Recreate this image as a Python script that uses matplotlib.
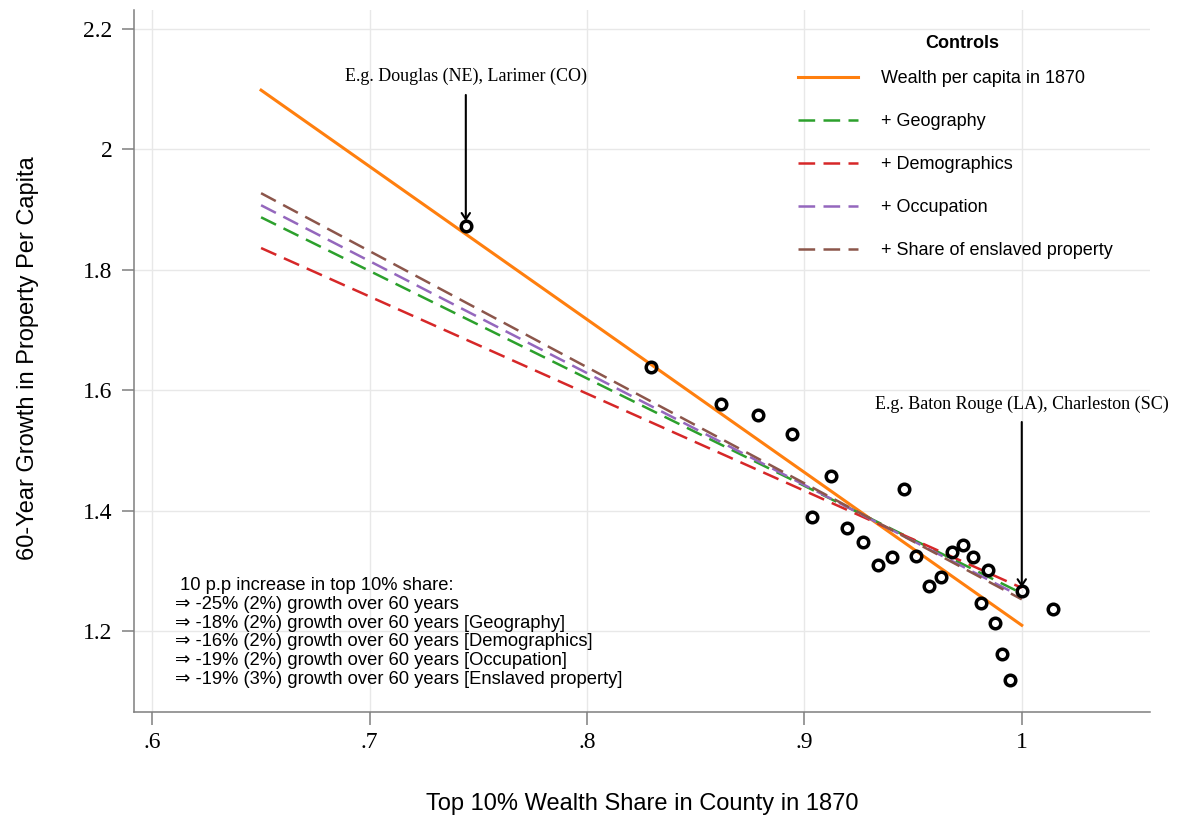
import matplotlib
matplotlib.use("Agg")
import matplotlib.pyplot as plt

# ---------------- data ----------------
top10_share = [0.7442, 0.8294, 0.8616, 0.8787, 0.8943, 0.9123, 0.9035, 0.9195,
               0.9269, 0.9338, 0.9402, 0.9457, 0.9513, 0.9572, 0.9628, 0.9678,
               0.9729, 0.9775, 0.9844, 0.9812, 0.9876, 0.9908, 0.9945, 1.0000,
               1.0143]
growth = [1.8726, 1.6386, 1.5772, 1.5590, 1.5274, 1.4577, 1.3897, 1.3714,
          1.3482, 1.3100, 1.3233, 1.4361, 1.3250, 1.2752, 1.2901, 1.3316,
          1.3432, 1.3233, 1.3017, 1.2470, 1.2138, 1.1624, 1.1192, 1.2669,
          1.2370]

fit_x = [0.65, 1.0]
fit_labels = ["Wealth per capita in 1870", "+ Geography", "+ Demographics",
              "+ Occupation", "+ Share of enslaved property"]
fit_wealth = [2.098, 1.210]
fit_geography = [1.887, 1.263]
fit_demographics = [1.836, 1.272]
fit_occupation = [1.907, 1.257]
fit_enslaved = [1.927, 1.253]

xticks = [0.6, 0.7, 0.8, 0.9, 1.0]
xtick_labels = [".6", ".7", ".8", ".9", "1"]
yticks = [1.2, 1.4, 1.6, 1.8, 2.0, 2.2]
ytick_labels = ["1.2", "1.4", "1.6", "1.8", "2", "2.2"]

note_lines = [" 10 p.p increase in top 10% share:",
              "\u21d2 -25% (2%) growth over 60 years",
              "\u21d2 -18% (2%) growth over 60 years [Geography]",
              "\u21d2 -16% (2%) growth over 60 years [Demographics]",
              "\u21d2 -19% (2%) growth over 60 years [Occupation]",
              "\u21d2 -19% (3%) growth over 60 years [Enslaved property]"]

legend_title = "Controls"
ann_douglas = "E.g. Douglas (NE), Larimer (CO)"
ann_baton = "E.g. Baton Rouge (LA), Charleston (SC)"
idx_douglas = 0
idx_baton = 23

# ---------------- style ----------------
plt.rcParams['lines.scale_dashes'] = False
sans = ['Liberation Sans', 'DejaVu Sans']
serif = ['Liberation Serif', 'DejaVu Serif']

W, H = 1179, 818
fig = plt.figure(figsize=(W / 100, H / 100), dpi=100)
ax_l, ax_b, ax_r, ax_t = 133.5, 711.5, 1150, 10
ax = fig.add_axes([ax_l / W, 1 - ax_b / H, (ax_r - ax_l) / W, (ax_b - ax_t) / H])

ax.set_xlim(0.5913, 1.0590)
ax.set_ylim(1.0669, 2.231)

ax.grid(True, color='#e8e8e8', lw=1.0, zorder=0)
ax.set_axisbelow(True)
for s in ['top', 'right']:
    ax.spines[s].set_visible(False)
for s in ['left', 'bottom']:
    ax.spines[s].set_color('#7f7f7f')
    ax.spines[s].set_linewidth(1.1)

ax.set_xticks(xticks)
ax.set_xticklabels(xtick_labels, family=serif, fontsize=17)
ax.set_yticks(yticks)
ax.set_yticklabels(ytick_labels, family=serif, fontsize=17)
ax.tick_params(axis='both', direction='out', length=9, width=1.1, color='#7f7f7f', pad=6)

ax.set_xlabel("Top 10% Wealth Share in County in 1870", family=sans, fontsize=17, va='center')
ax.xaxis.set_label_coords(0.5 * (ax_l + ax_r) / W, 1 - 804 / H, transform=fig.transFigure)
ax.set_ylabel("60-Year Growth in Property Per Capita", family=sans, fontsize=17, va='center')
ax.yaxis.set_label_coords(28 / W, 1 - 358 / H, transform=fig.transFigure)

# fitted lines
dash = (0, (12, 6))
ax.plot(fit_x, fit_wealth, color='#ff7f0e', lw=2.2, label=fit_labels[0], zorder=3)
ax.plot(fit_x, fit_geography, color='#2ca02c', lw=1.8, ls=dash, label=fit_labels[1], zorder=3)
ax.plot(fit_x, fit_demographics, color='#d62728', lw=1.8, ls=dash, label=fit_labels[2], zorder=3)
ax.plot(fit_x, fit_occupation, color='#9467bd', lw=1.8, ls=dash, label=fit_labels[3], zorder=3)
ax.plot(fit_x, fit_enslaved, color='#8c564b', lw=1.8, ls=dash, label=fit_labels[4], zorder=3)

# scatter
ax.plot(top10_share, growth, ls='none', marker='o', ms=7.6, mew=2.5,
        mec='black', mfc='none', zorder=4)

# annotations
arrow_props = dict(arrowstyle='->,head_length=0.45,head_width=0.3', color='black', lw=1.5,
                   shrinkA=0, shrinkB=0)
xd, yd = top10_share[idx_douglas], growth[idx_douglas]
ax.annotate('', xy=(xd, yd + 0.008), xytext=(xd, 2.09), arrowprops=arrow_props, zorder=5)
ax.text(xd, 2.1215, ann_douglas, family=serif, fontsize=13, ha='center', va='center')

xb, yb = top10_share[idx_baton], growth[idx_baton]
ax.annotate('', xy=(xb, yb + 0.006), xytext=(xb, 1.5473), arrowprops=arrow_props, zorder=5)
ax.text(xb, 1.5772, ann_baton, family=serif, fontsize=13, ha='center', va='center')

# note block
ax.text(175 / W, 1 - 577 / H, "\n".join(note_lines), transform=fig.transFigure,
        family=sans, fontsize=13.2, ha='left', va='top', linespacing=1.14)

# legend
leg = ax.legend(loc='upper left', bbox_to_anchor=(798 / W, 1 - 70 / H),
                bbox_transform=fig.transFigure, frameon=False,
                prop={'family': sans, 'size': 13},
                handlelength=3.3, handletextpad=1.3, labelspacing=1.44,
                borderpad=0, borderaxespad=0)
fig.text(962 / W, 1 - 43.5 / H, legend_title, family=sans, fontsize=13, weight='bold',
         ha='center', va='center')

fig.savefig("out.png", dpi=100)
